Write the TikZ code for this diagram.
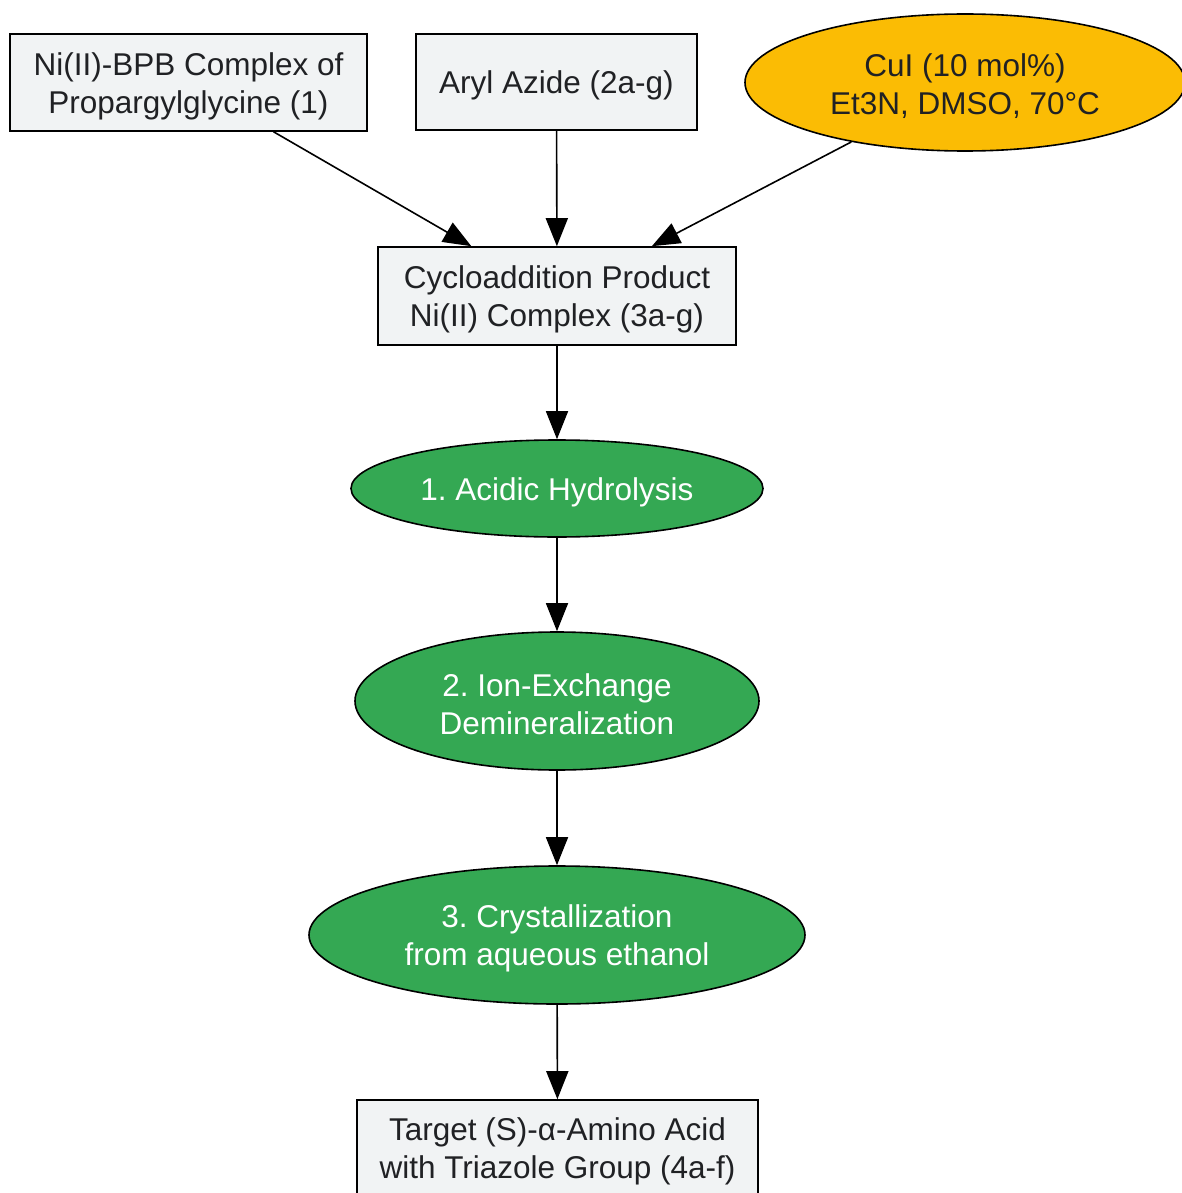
\documentclass[tikz,border=0pt]{standalone}
\usepackage{fontspec}
\setmainfont{Liberation Sans}
\usetikzlibrary{arrows.meta,shapes.geometric}
\definecolor{txt}{HTML}{202124}
\definecolor{boxfill}{HTML}{F1F3F4}
\definecolor{orangefill}{HTML}{FBBC04}
\definecolor{greenfill}{HTML}{34A853}
\newcommand{\upstrut}{\rule{0pt}{30pt}}
\tikzset{
  base/.style={draw=black, line width=1.6pt, inner sep=0pt, align=center,
    font=\fontsize{31.5}{38}\selectfont\frenchspacing},
  graybox/.style={base, rectangle, fill=boxfill, text=txt},
  reagent/.style={base, ellipse, fill=orangefill, text=txt},
  stepell/.style={base, ellipse, fill=greenfill, text=white},
  conn/.style={draw=black, line width=1.6pt, -{Triangle[length=28pt,width=22pt]}}
}
\begin{document}
\begin{tikzpicture}[x=1pt,y=-1pt]
\useasboundingbox (0,0) rectangle (1181,1193);
\node[graybox, minimum width=357pt, minimum height=97pt] (b1) at (188.5,82.5) {\upstrut Ni(II)-BPB Complex of\\Propargylglycine (1)};
\node[graybox, minimum width=281pt, minimum height=96pt] (b2) at (556.5,82) {\upstrut Aryl Azide (2a-g)};
\node[reagent, minimum width=440pt, minimum height=137pt] (cu) at (965,82.5) {\upstrut CuI (10 mol\%)\\Et3N, DMSO, 70°C};
\node[graybox, minimum width=358pt, minimum height=98pt] (b3) at (557,296) {\upstrut Cycloaddition Product\\Ni(II) Complex (3a-g)};
\node[stepell, minimum width=412pt, minimum height=97pt] (e1) at (557,488.5) {\upstrut 1. Acidic Hydrolysis};
\node[stepell, minimum width=404pt, minimum height=138pt] (e2) at (557,701) {\upstrut 2. Ion-Exchange\\Demineralization};
\node[stepell, minimum width=496pt, minimum height=138pt] (e3) at (557,935) {\upstrut 3. Crystallization\\from aqueous ethanol};
\node[graybox, minimum width=401pt, minimum height=96pt] (b4) at (557.5,1148) {\upstrut Target (S)-α-Amino Acid\\with Triazole Group (4a-f)};
\draw[conn] (b1) -- (b3);
\draw[conn] (b2) -- (b3);
\draw[conn] (cu) -- (b3);
\draw[conn] (b3) -- (e1);
\draw[conn] (e1) -- (e2);
\draw[conn] (e2) -- (e3);
\draw[conn] (e3) -- (b4);
\end{tikzpicture}
\end{document}
